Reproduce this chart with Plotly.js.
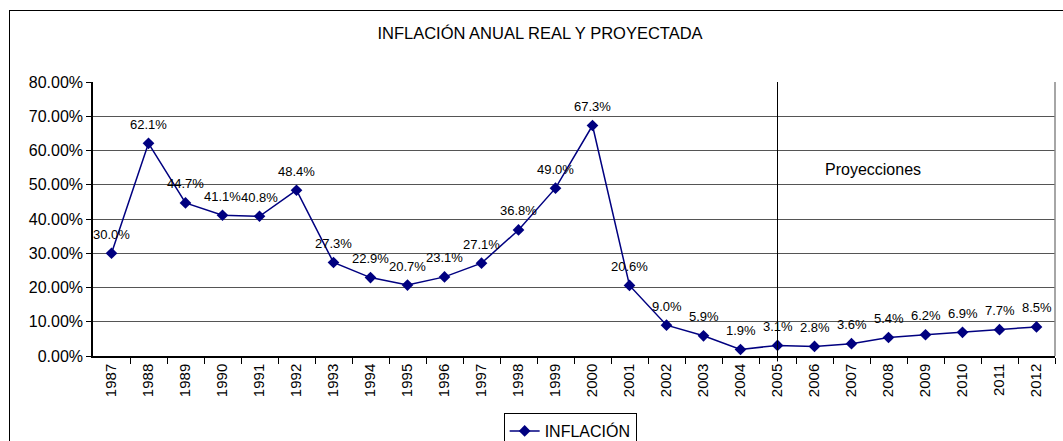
<!DOCTYPE html>
<html>
<head>
<meta charset="utf-8">
<script src="https://cdn.plot.ly/plotly-3.0.1.min.js"></script>
<style>
html,body{margin:0;padding:0;background:#fff;overflow:hidden;}
#frame{position:absolute;left:9px;top:10px;width:1200px;height:600px;border:1px solid #000;box-sizing:border-box;}
#chart{position:absolute;left:0;top:0;width:1063px;height:441px;}
</style>
</head>
<body>
<div id="frame"></div>
<div id="chart"></div>
<script>
const years = [1987,1988,1989,1990,1991,1992,1993,1994,1995,1996,1997,1998,1999,2000,2001,2002,2003,2004,2005,2006,2007,2008,2009,2010,2011,2012];
const inflacion = [30.0,62.1,44.7,41.1,40.8,48.4,27.3,22.9,20.7,23.1,27.1,36.8,49.0,67.3,20.6,9.0,5.9,1.9,3.1,2.8,3.6,5.4,6.2,6.9,7.7,8.5];
const yTicks = [0,10,20,30,40,50,60,70,80];
const yTickLabels = ['0.00%','10.00%','20.00%','30.00%','40.00%','50.00%','60.00%','70.00%','80.00%'];
const seriesName = 'INFLACIÓN';
const chartTitle = 'INFLACIÓN ANUAL REAL Y PROYECTADA';
const projectionStart = 2005;
const projectionLabel = 'Proyecciones';
const projectionLabelAt = [2006, 54.6];

const font = 'Liberation Sans';

const trace = {
  x: years, y: inflacion, type: 'scatter', mode: 'lines+markers',
  name: seriesName,
  line: {color: '#000080', width: 1.5},
  marker: {symbol: 'diamond', size: 9, color: '#000080'}
};

const labelAnn = years.map((yr, i) => ({
  x: yr, y: inflacion[i], xref: 'x', yref: 'y',
  text: inflacion[i].toFixed(1) + '%', showarrow: false,
  yshift: 19, font: {family: font, size: 13, color: '#000'}
}));

const layout = {
  width: 1063, height: 441,
  margin: {l: 93, r: 8, t: 82, b: 85},
  paper_bgcolor: 'rgba(0,0,0,0)', plot_bgcolor: '#fff',
  title: {text: chartTitle, font: {family: font, size: 16.5, color: '#000'},
          x: 0.508, xanchor: 'center', y: 1 - 33/441, yanchor: 'middle'},
  font: {family: font, color: '#000'},
  showlegend: true,
  legend: {orientation: 'h', x: 0.496, xanchor: 'center', yref: 'container', y: 1 - 413/441, yanchor: 'top',
           bordercolor: '#000', borderwidth: 1, bgcolor: '#fff',
           font: {family: font, size: 16, color: '#000'}},
  xaxis: {
    type: 'linear', range: [years[0] - 0.5, years[years.length - 1] + 0.5],
    tickmode: 'array', tickvals: years, ticktext: years.map(String),
    tickangle: -90, tickfont: {family: font, size: 15, color: '#000'},
    ticks: '',
    minor: {tickmode: 'array', tickvals: years.map(y => y + 0.5), ticks: 'outside', ticklen: 6, tickcolor: '#000', showgrid: false},
    showline: true, linecolor: '#000', linewidth: 1.5, showgrid: false, zeroline: false
  },
  yaxis: {
    range: [0, 80], tickmode: 'array', tickvals: yTicks, ticktext: yTickLabels,
    tickfont: {family: font, size: 16, color: '#000'},
    ticks: 'outside', ticklen: 5, tickcolor: '#000',
    showline: true, linecolor: '#000', linewidth: 1.5,
    showgrid: true, gridcolor: '#555', gridwidth: 1, zeroline: false
  },
  shapes: [
    {type: 'line', xref: 'paper', yref: 'paper', x0: 1, x1: 1, y0: 0, y1: 1, line: {color: '#888', width: 1.5}},
    {type: 'line', xref: 'x', yref: 'paper', x0: projectionStart, x1: projectionStart, y0: -0.02, y1: 1, line: {color: '#000', width: 1}}
  ],
  annotations: labelAnn.concat([{
    x: projectionLabelAt[0], y: projectionLabelAt[1], xref: 'x', yref: 'y', xanchor: 'left', yanchor: 'middle',
    text: projectionLabel, showarrow: false,
    xshift: 8, font: {family: font, size: 16, color: '#000'}
  }])
};

Plotly.newPlot('chart', [trace], layout, {displayModeBar: false});
</script>
</body>
</html>
